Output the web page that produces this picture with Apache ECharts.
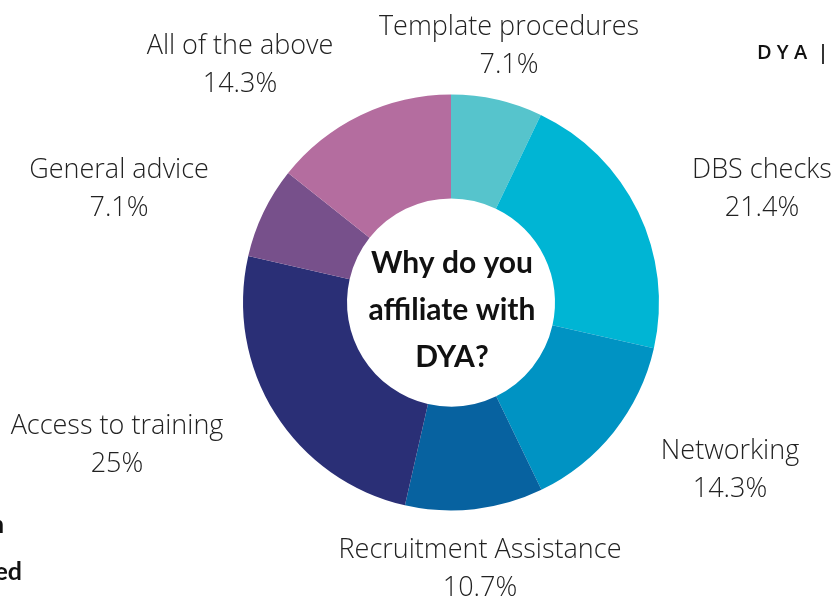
<!DOCTYPE html>
<html>
<head>
<meta charset="utf-8">
<script src="https://cdn.jsdelivr.net/npm/echarts@6/dist/echarts.min.js"></script>
<style>
html, body { margin: 0; padding: 0; background: #fff; }
#chart { width: 835px; height: 598px; }
</style>
</head>
<body>
<div id="chart"></div>
<script>
// slices, clockwise from 12 o'clock
var categories = ['Template procedures', 'DBS checks', 'Networking', 'Recruitment Assistance',
                  'Access to training', 'General advice', 'All of the above'];
var shares = [7.1, 21.4, 14.3, 10.7, 25, 7.1, 14.3];
var sliceColors = ['#56c4cc', '#00b5d4', '#0093c3', '#0762a0', '#2a2f76', '#77508b', '#b46d9f'];

// where each label block sits (centre of the two lines)
var labelSpots = [[509, 46], [762, 189], [730, 470], [480, 569], [117, 445], [119, 189], [240, 65]];

var chart = echarts.init(document.getElementById('chart'));

var option = {
  backgroundColor: '#fff',
  animation: false,
  graphic: [
    // centre question
    { type: 'text', x: 452, y: 310, silent: true,
      style: { text: 'Why do you\naffiliate with\nDYA?', fill: '#111', font: 'bold 30px Lato',
               lineHeight: 47, align: 'center', verticalAlign: 'middle' } },
    // bits of neighbouring page text that are cut off
    { type: 'text', x: 757, y: 53, silent: true,
      style: { text: 'D Y A  |', fill: '#111', font: '600 20px "Open Sans"', verticalAlign: 'middle' } },
    { type: 'text', x: 4, y: 525, silent: true,
      style: { text: 'n', fill: '#111', font: 'bold 25px Lato', align: 'right', verticalAlign: 'middle' } },
    { type: 'text', x: 22, y: 572, silent: true,
      style: { text: 'ed', fill: '#111', font: 'bold 25px Lato', align: 'right', verticalAlign: 'middle' } }
  ],
  series: [{
    type: 'pie',
    center: [451, 302.5],
    radius: [104, 208],
    startAngle: 90,
    clockwise: true,
    silent: true,
    avoidLabelOverlap: false,
    itemStyle: { borderWidth: 0 },
    labelLine: { show: false },
    label: {
      show: true,
      formatter: '{b}\n{c}%',
      color: '#222',
      fontFamily: 'Open Sans',
      fontWeight: 300,
      fontSize: 27,
      lineHeight: 38
    },
    labelLayout: function (params) {
      var p = labelSpots[params.dataIndex];
      return { x: p[0], y: p[1], align: 'center', verticalAlign: 'middle', hideOverlap: false };
    },
    data: categories.map(function (name, i) {
      return { name: name, value: shares[i], itemStyle: { color: sliceColors[i] } };
    })
  }]
};

chart.setOption(option);
</script>
</body>
</html>
